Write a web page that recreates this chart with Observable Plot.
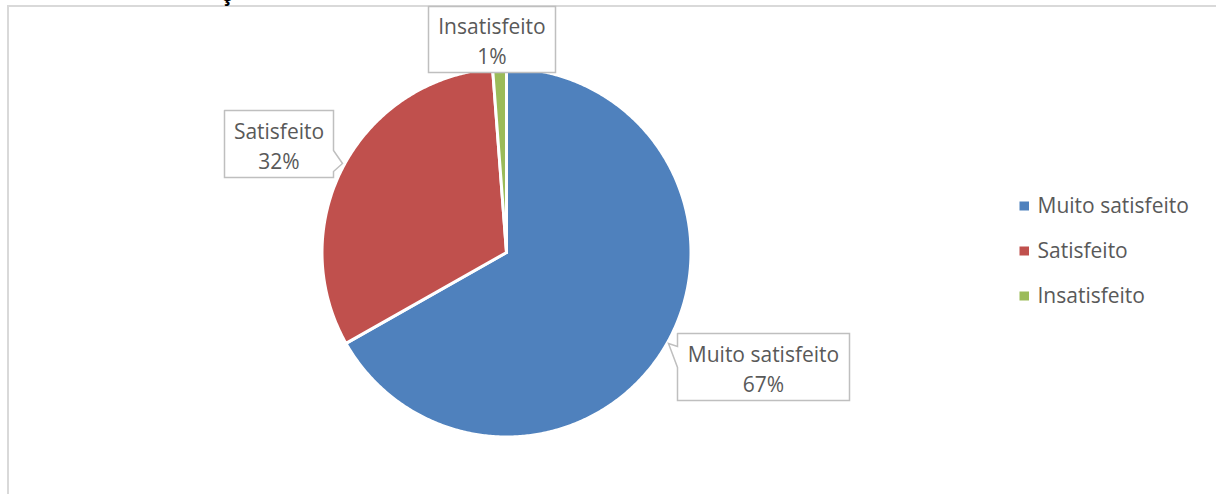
<!DOCTYPE html>
<html><head><meta charset="utf-8">
<script src="https://cdn.jsdelivr.net/npm/d3@7"></script>
<script src="https://cdn.jsdelivr.net/npm/@observablehq/plot@0.6"></script>
<style>html,body{margin:0;padding:0;background:#fff;overflow:hidden;}</style>
</head><body><div id="chart"></div>
<script>
// ---- data ----
const categories = ["Muito satisfeito", "Satisfeito", "Insatisfeito"];
const values = [66.8, 32.0, 1.2];
const pctLabels = ["67%", "32%", "1%"];
const colors = ["#4F81BD", "#C0504D", "#9BBB59"];

// ---- layout ----
const W = 1216, H = 494;
const cx = 506, cy = 252, R = 184.5;
const textColor = "#595959";
const font = "'Open Sans', sans-serif";
const fs = 21;

// pie slices as polygons from d3.pie angles
const arcs = d3.pie().sort(null)(values);
const slicePts = [];
arcs.forEach((a, i) => {
  const n = Math.max(2, Math.ceil((a.endAngle - a.startAngle) / (Math.PI / 360)));
  slicePts.push({cat: categories[i], x: cx, y: cy});
  for (let k = 0; k <= n; k++) {
    const t = a.startAngle + (a.endAngle - a.startAngle) * k / n;
    slicePts.push({cat: categories[i], x: cx + R * Math.sin(t), y: cy - R * Math.cos(t)});
  }
  slicePts.push({cat: categories[i], x: cx, y: cy});
});

// callout boxes (layout)
const callouts = [
  {box: [677, 849, 333, 400], side: "left", base: [346, 367], tip: [668, 343]},
  {box: [224, 333, 110, 177], side: "right", base: [150, 171], tip: [342, 163]},
  {box: [428, 555, 6, 72], side: null}
];
const calloutPts = [];
callouts.forEach((c, i) => {
  const [x1, x2, y1, y2] = c.box;
  let pts;
  if (c.side === "left") {
    pts = [[x1, y1], [x2, y1], [x2, y2], [x1, y2], [x1, c.base[1]], c.tip, [x1, c.base[0]], [x1, y1]];
  } else if (c.side === "right") {
    pts = [[x1, y1], [x2, y1], [x2, c.base[0]], c.tip, [x2, c.base[1]], [x2, y2], [x1, y2], [x1, y1]];
  } else {
    pts = [[x1, y1], [x2, y1], [x2, y2], [x1, y2], [x1, y1]];
  }
  pts.forEach(p => calloutPts.push({id: i, x: p[0], y: p[1]}));
});
const calloutText = categories.map((c, i) => {
  const [x1, x2, y1, y2] = callouts[i].box;
  return {text: c + "\n" + pctLabels[i], x: (x1 + x2) / 2, y: (y1 + y2) / 2};
});

// legend rows
const legX = 1019.5, legY0 = 206, legDy = 45;
const legend = categories.map((c, i) => ({cat: c, y: legY0 + i * legDy}));

const chart = Plot.plot({
  width: W, height: H, margin: 0,
  style: {background: "#fff", overflow: "visible"},
  x: {domain: [0, W], range: [0, W], axis: null},
  y: {domain: [0, H], range: [0, H], axis: null},
  color: {domain: categories, range: colors},
  marks: [
    Plot.ruleY([5.5], {x1: 7, x2: W, stroke: "#D9D9D9", strokeWidth: 2}),
    Plot.ruleX([7.5], {y1: 5, y2: H, stroke: "#D9D9D9", strokeWidth: 2}),
    Plot.text(["ç"], {x: 226, y: 0, text: d => d, lineAnchor: "bottom", fontSize: fs, fontWeight: "bold", fill: "#000", fontFamily: font}),
    Plot.line(slicePts, {x: "x", y: "y", z: "cat", fill: "cat", stroke: "white", strokeWidth: 3, strokeLinejoin: "miter", strokeMiterlimit: 4}),
    Plot.line(calloutPts, {x: "x", y: "y", z: "id", fill: "white", stroke: "#BFBFBF", strokeWidth: 1.5, strokeLinejoin: "miter", strokeMiterlimit: 4}),
    Plot.text(calloutText, {x: "x", y: "y", text: "text", lineAnchor: "middle", textAnchor: "middle", lineHeight: 30 / fs, fontSize: fs, fill: textColor, fontFamily: font}),
    Plot.rect(legend, {x1: legX, x2: legX + 9.5, y1: d => d.y - 4.5, y2: d => d.y + 4.5, fill: "cat"}),
    Plot.text(legend, {x: legX + 17.5, y: "y", text: "cat", textAnchor: "start", lineAnchor: "middle", fontSize: fs, fill: textColor, fontFamily: font})
  ]
});
document.getElementById("chart").appendChild(chart);
</script>
</body></html>
